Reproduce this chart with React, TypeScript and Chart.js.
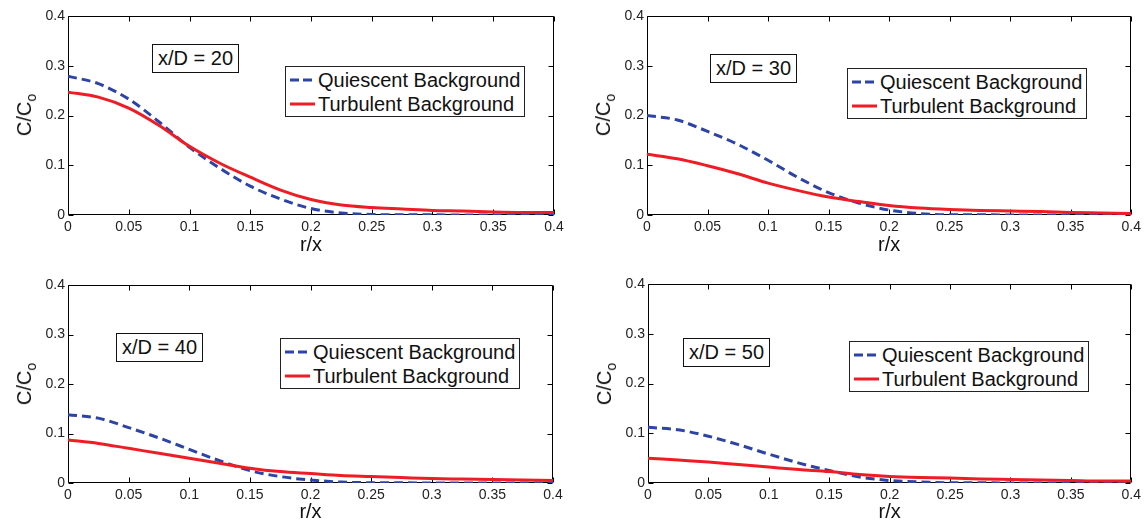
import React, { useEffect, useRef } from 'react';
import { Chart, registerables } from 'chart.js';

Chart.register(...registerables);

// ---- data ----
const rOverX = [0, 0.025, 0.05, 0.075, 0.1, 0.125, 0.15, 0.175, 0.2, 0.225, 0.25, 0.275, 0.3, 0.325, 0.35, 0.375, 0.4];

const quiescent20 = [0.279, 0.264, 0.233, 0.187, 0.136, 0.094, 0.058, 0.032, 0.013, 0.004, 0.001, 0.0005, 0.0003, 0.0002, 0.0001, 0.0001, 0.0001];
const turbulent20 = [0.247, 0.237, 0.215, 0.18, 0.138, 0.104, 0.076, 0.05, 0.031, 0.02, 0.015, 0.012, 0.009, 0.008, 0.006, 0.005, 0.005];

const quiescent30 = [0.2, 0.191, 0.168, 0.142, 0.11, 0.075, 0.045, 0.024, 0.01, 0.003, 0.0005, 0.0003, 0.0002, 0.0001, 0.0001, 0.0001, 0.0001];
const turbulent30 = [0.122, 0.113, 0.099, 0.083, 0.064, 0.049, 0.036, 0.027, 0.019, 0.014, 0.011, 0.009, 0.008, 0.007, 0.005, 0.004, 0.003];

const quiescent40 = [0.138, 0.131, 0.112, 0.091, 0.068, 0.045, 0.025, 0.013, 0.006, 0.002, 0.0005, 0.0003, 0.0002, 0.0001, 0.0001, 0.0001, 0.0001];
const turbulent40 = [0.087, 0.08, 0.07, 0.06, 0.05, 0.04, 0.03, 0.023, 0.019, 0.015, 0.013, 0.011, 0.009, 0.008, 0.007, 0.006, 0.005];

const quiescent50 = [0.112, 0.107, 0.094, 0.077, 0.058, 0.04, 0.025, 0.012, 0.005, 0.002, 0.0005, 0.0003, 0.0002, 0.0001, 0.0001, 0.0001, 0.0001];
const turbulent50 = [0.05, 0.046, 0.042, 0.037, 0.032, 0.027, 0.023, 0.017, 0.013, 0.011, 0.01, 0.008, 0.007, 0.006, 0.005, 0.004, 0.004];

const xTickStep = 0.05;
const yTickStep = 0.1;
const seriesNames = ['Quiescent Background', 'Turbulent Background'];
const panelLabels = ['x/D = 20', 'x/D = 30', 'x/D = 40', 'x/D = 50'];
const xTitle = 'r/x';

// ---- styles ----
const FONT = '"Liberation Sans", Arial, Helvetica, sans-serif';
const BLUE = '#2d44a6';
const RED = '#ee1d25';

const panels = [
  { q: quiescent20, t: turbulent20, label: panelLabels[0], left: 0, top: 0, w: 572, h: 262, yw: 68, pr: 18, pt: 16, xh: 47, tpad: 7,
    ann: { left: 152, top: 44 }, leg: { left: 285, top: 66 }, ytitle: { x: 24, y: 115 } },
  { q: quiescent30, t: turbulent30, label: panelLabels[1], left: 572, top: 0, w: 573, h: 262, yw: 75, pr: 12, pt: 16, xh: 47, tpad: 7,
    ann: { left: 710, top: 54 }, leg: { left: 847, top: 68 }, ytitle: { x: 603, y: 115 } },
  { q: quiescent40, t: turbulent40, label: panelLabels[2], left: 0, top: 262, w: 572, h: 260, yw: 68, pr: 19, pt: 23, xh: 39, tpad: 0,
    ann: { left: 116, top: 333 }, leg: { left: 280, top: 338 }, ytitle: { x: 24, y: 384 } },
  { q: quiescent50, t: turbulent50, label: panelLabels[3], left: 572, top: 262, w: 573, h: 260, yw: 76, pr: 12, pt: 22, xh: 39, tpad: 0,
    ann: { left: 683, top: 338 }, leg: { left: 849, top: 341 }, ytitle: { x: 604, y: 384 } },
];

const boxPlugin = {
  id: 'matlabBox',
  beforeDatasetsDraw(chart: any) {
    const { ctx, chartArea } = chart;
    const { left, right, top, bottom } = chartArea;
    const xs = chart.scales.x;
    const ys = chart.scales.y;
    const L = Math.round(left) + 0.5;
    const R = Math.round(right) - 0.5;
    const T = Math.round(top) + 0.5;
    const B = Math.round(bottom) - 0.5;
    const tl = 5;
    ctx.save();
    ctx.strokeStyle = '#000';
    ctx.lineWidth = 1;
    ctx.beginPath();
    ctx.rect(L, T, R - L, B - T);
    xs.ticks.forEach((t: any) => {
      const px = Math.round(xs.getPixelForValue(t.value)) + 0.5;
      ctx.moveTo(px, B);
      ctx.lineTo(px, B - tl);
      ctx.moveTo(px, T);
      ctx.lineTo(px, T + tl);
    });
    ys.ticks.forEach((t: any) => {
      const py = Math.round(ys.getPixelForValue(t.value)) + 0.5;
      ctx.moveTo(L, py);
      ctx.lineTo(L + tl, py);
      ctx.moveTo(R, py);
      ctx.lineTo(R - tl, py);
    });
    ctx.stroke();
    ctx.restore();
  },
};

function fmt(v: number) {
  return String(Number(Number(v).toFixed(2)));
}

function Panel({ p }: { p: any }) {
  const ref = useRef<HTMLCanvasElement>(null);
  useEffect(() => {
    if (!ref.current) return;
    const chart = new Chart(ref.current, {
      type: 'line',
      data: {
        datasets: [
          {
            label: seriesNames[0],
            data: rOverX.map((x, i) => ({ x, y: p.q[i] })),
            borderColor: BLUE,
            borderWidth: 3,
            borderDash: [9, 5],
            pointRadius: 0,
            cubicInterpolationMode: 'monotone',
            fill: false,
            order: 1,
          },
          {
            label: seriesNames[1],
            data: rOverX.map((x, i) => ({ x, y: p.t[i] })),
            borderColor: RED,
            borderWidth: 3,
            pointRadius: 0,
            cubicInterpolationMode: 'monotone',
            fill: false,
            order: 0,
          },
        ],
      },
      options: {
        animation: false,
        responsive: false,
        maintainAspectRatio: false,
        layout: { padding: { left: 0, right: p.pr, top: p.pt, bottom: 0 } },
        plugins: { legend: { display: false }, tooltip: { enabled: false } },
        scales: {
          x: {
            type: 'linear',
            min: 0,
            max: 0.4,
            grid: { display: false, drawTicks: false },
            border: { display: false },
            ticks: {
              stepSize: xTickStep,
              autoSkip: false,
              maxRotation: 0,
              padding: 4,
              color: '#222',
              font: { family: FONT, size: 14 },
              callback: (v: any) => fmt(v),
            },
            title: {
              display: true,
              text: xTitle,
              color: '#111',
              font: { family: FONT, size: 20, lineHeight: 1 },
              padding: { top: 0, bottom: p.tpad },
            },
            afterFit: (s: any) => {
              s.height = p.xh;
            },
          },
          y: {
            type: 'linear',
            min: 0,
            max: 0.4,
            grid: { display: false, drawTicks: false },
            border: { display: false },
            ticks: {
              stepSize: yTickStep,
              padding: 3,
              color: '#222',
              font: { family: FONT, size: 14 },
              callback: (v: any) => fmt(v),
            },
            afterFit: (s: any) => {
              s.width = p.yw;
            },
          },
        },
      } as any,
      plugins: [boxPlugin],
    });
    return () => chart.destroy();
  }, []);
  return (
    <canvas
      ref={ref}
      width={p.w}
      height={p.h}
      style={{ position: 'absolute', left: p.left, top: p.top, width: p.w, height: p.h }}
    />
  );
}

function LegendRow({ dashed, color, text }: { dashed: boolean; color: string; text: string }) {
  return (
    <div style={{ display: 'flex', alignItems: 'center', height: 24 }}>
      <svg width={25} height={4} style={{ display: 'block' }}>
        <line x1={0} y1={2} x2={25} y2={2} stroke={color} strokeWidth={3} strokeDasharray={dashed ? '9 4' : undefined} />
      </svg>
      <span style={{ marginLeft: 3 }}>{text}</span>
    </div>
  );
}

export default function App() {
  return (
    <div style={{ position: 'fixed', left: 0, top: 0, width: 1145, height: 522, background: '#fff', overflow: 'hidden' }}>
      {panels.map((p, i) => (
        <React.Fragment key={i}>
          <Panel p={p} />
          <div
            style={{
              position: 'absolute',
              left: p.ytitle.x,
              top: p.ytitle.y,
              transform: 'translate(-50%, -50%) rotate(-90deg)',
              font: `20px ${FONT}`,
              color: '#111',
              whiteSpace: 'nowrap',
              lineHeight: '24px',
            }}
          >
            C/C<sub style={{ fontSize: 14, verticalAlign: '-5px', lineHeight: 0 }}>o</sub>
          </div>
          <div
            style={{
              position: 'absolute',
              left: p.ann.left,
              top: p.ann.top,
              border: '1px solid #111',
              background: '#fff',
              padding: '0 5px',
              font: `20px ${FONT}`,
              lineHeight: '27px',
              color: '#111',
              whiteSpace: 'nowrap',
            }}
          >
            {p.label}
          </div>
          <div
            style={{
              position: 'absolute',
              left: p.leg.left,
              top: p.leg.top,
              border: '1px solid #222',
              background: '#fff',
              padding: '1px 4px 0 4px',
              font: `20px ${FONT}`,
              color: '#111',
              whiteSpace: 'nowrap',
            }}
          >
            <LegendRow dashed={true} color={BLUE} text={seriesNames[0]} />
            <LegendRow dashed={false} color={RED} text={seriesNames[1]} />
          </div>
        </React.Fragment>
      ))}
    </div>
  );
}
